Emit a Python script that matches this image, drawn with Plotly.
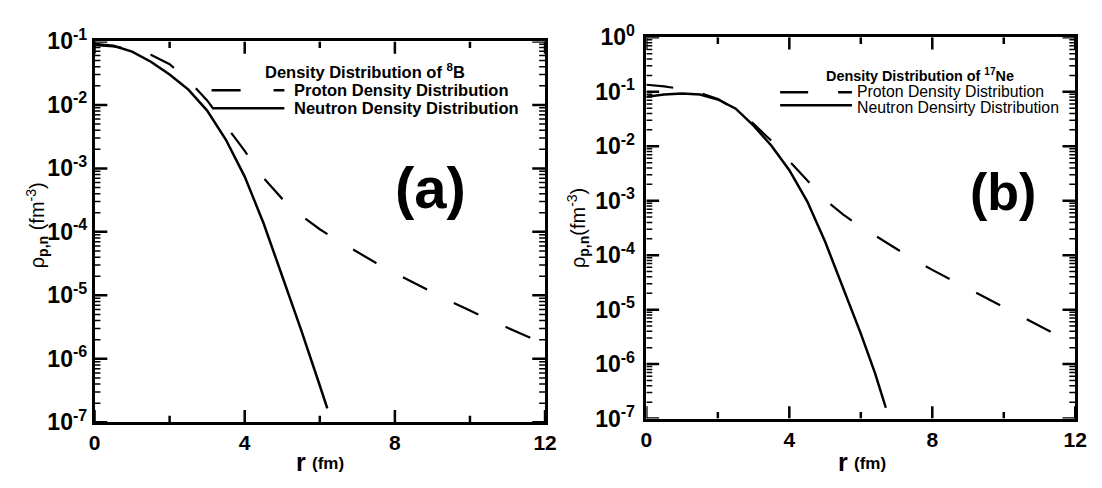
import math
import plotly.graph_objects as go

# ---- radial density data ----
# 8B
r_b8_n = [0.0, 0.5, 1.0, 1.5, 2.0, 2.5, 3.0, 3.5, 4.0, 4.5, 5.0, 5.5, 6.0, 6.2]
rho_b8_n = [0.0912, 0.0851, 0.0692, 0.0479, 0.0302, 0.0174, 0.00813, 0.00282,
            7.41e-4, 1.38e-4, 2.0e-5, 2.88e-6, 3.8e-7, 1.66e-7]
r_b8_p = [0.0, 0.5, 1.0, 1.5, 2.0, 2.5, 3.0, 3.5, 4.0, 4.5, 5.0, 5.5, 6.0, 6.5,
          7.0, 7.5, 8.0, 8.5, 9.0, 9.5, 10.0, 10.5, 11.0, 11.5, 12.0]
rho_b8_p = [0.0871, 0.0832, 0.0759, 0.0617, 0.0437, 0.0245, 0.01175, 0.00468,
            0.001884, 7.08e-4, 3.31e-4, 1.82e-4, 1.10e-4, 7.16e-5, 4.79e-5,
            3.24e-5, 2.24e-5, 1.58e-5, 1.12e-5, 7.94e-6, 5.75e-6, 4.17e-6,
            3.09e-6, 2.29e-6, 1.70e-6]
# 17Ne
r_ne_n = [0.0, 0.5, 1.0, 1.5, 2.0, 2.5, 3.0, 3.5, 4.0, 4.5, 5.0, 5.5, 6.0, 6.4, 6.7]
rho_ne_n = [0.0813, 0.0891, 0.0933, 0.0891, 0.0724, 0.0490, 0.0240, 0.01023,
            0.00363, 9.77e-4, 1.78e-4, 2.63e-5, 3.63e-6, 6.76e-7, 1.58e-7]
r_ne_p = [0.0, 0.5, 1.0, 1.5, 2.0, 2.5, 3.0, 3.5, 4.0, 4.5, 5.0, 5.5, 6.0, 6.5,
          7.0, 7.5, 8.0, 8.5, 9.0, 9.5, 10.0, 10.5, 11.0, 11.5, 12.0]
rho_ne_p = [0.1349, 0.1259, 0.1122, 0.0955, 0.0741, 0.0468, 0.0257, 0.01259,
            0.00537, 0.002344, 0.001047, 5.62e-4, 3.31e-4, 2.09e-4, 1.32e-4,
            8.13e-5, 5.37e-5, 3.63e-5, 2.45e-5, 1.62e-5, 1.10e-5, 7.41e-6,
            5.01e-6, 3.39e-6, 2.29e-6]

x_tickvals = [0, 4, 8, 12]
x_ticktext = ["<b>0</b>", "<b>4</b>", "<b>8</b>", "<b>12</b>"]
x_minorvals = [2, 6, 10]
ya_exps = [-1, -2, -3, -4, -5, -6, -7]
yb_exps = [0] + ya_exps

W, H = 1102, 488
FONT = "Liberation Sans, Arial, sans-serif"
X_RANGE = [0, 12]


def px(x):
    return x / W


def py(y):
    return 1 - y / H


def decade_ticks(exps):
    vals = [10.0 ** e for e in exps]
    txt = [f"<b>10<sup><span style='font-size:16px'>{e}</span></sup></b>" for e in exps]
    return vals, txt


def decade_minor(lo, hi):
    return [k * 10.0 ** e for e in range(lo, hi) for k in range(2, 10)]


dom_xa = [px(90), px(548)]
dom_ya = [py(432), py(27)]
dom_xb = [px(651), px(1087)]
dom_yb = [py(428), py(22.7)]
yr_a = [-7, -1]
yr_b = [-7, 0]

fig = go.Figure()

DASH = "27px,30px"
fig.add_trace(go.Scatter(x=r_b8_n, y=rho_b8_n, mode="lines",
                         line=dict(color="black", width=2.5), xaxis="x", yaxis="y"))
fig.add_trace(go.Scatter(x=r_b8_p, y=rho_b8_p, mode="lines",
                         line=dict(color="black", width=2.2, dash=DASH), xaxis="x", yaxis="y"))
fig.add_trace(go.Scatter(x=r_ne_n, y=rho_ne_n, mode="lines",
                         line=dict(color="black", width=2.5), xaxis="x2", yaxis="y2"))
fig.add_trace(go.Scatter(x=r_ne_p, y=rho_ne_p, mode="lines",
                         line=dict(color="black", width=2.2, dash=DASH), xaxis="x2", yaxis="y2"))


# inward frame ticks, drawn as line traces in each panel's own data space;
# tick lengths are given in pixels and converted with the panel's scale
def frame_tick_traces(dx, dy, yrange, xa, ya):
    x_per_px = (X_RANGE[1] - X_RANGE[0]) / ((dx[1] - dx[0]) * W)
    dec_per_px = (yrange[1] - yrange[0]) / ((dy[1] - dy[0]) * H)
    groups = {2.5: ([], []), 1.5: ([], [])}

    def add(width, xs, ys):
        gx, gy = groups[width]
        gx.extend(xs + [None])
        gy.extend(ys + [None])

    lo, hi = 10.0 ** yrange[0], 10.0 ** yrange[1]
    for v, ln in [(v, 13) for v in x_tickvals] + [(v, 7) for v in x_minorvals]:
        add(2.5, [v, v], [lo, 10.0 ** (yrange[0] + ln * dec_per_px)])
        add(2.5, [v, v], [hi, 10.0 ** (yrange[1] - ln * dec_per_px)])
    majors = [(10.0 ** e, 13, 2.5) for e in range(yrange[0], yrange[1] + 1)]
    minors = [(v, 6, 1.5) for v in decade_minor(yrange[0], yrange[1])]
    for v, ln, wd in majors + minors:
        add(wd, [X_RANGE[0], X_RANGE[0] + ln * x_per_px], [v, v])
        add(wd, [X_RANGE[1], X_RANGE[1] - ln * x_per_px], [v, v])
    for wd, (gx, gy) in groups.items():
        fig.add_trace(go.Scatter(x=gx, y=gy, mode="lines", xaxis=xa, yaxis=ya,
                                 line=dict(color="black", width=wd),
                                 hoverinfo="skip", connectgaps=False,
                                 cliponaxis=False))


frame_tick_traces(dom_xa, dom_ya, yr_a, "x", "y")
frame_tick_traces(dom_xb, dom_yb, yr_b, "x2", "y2")

xfont = dict(family=FONT, size=21, color="black", weight="bold")
yfont = dict(family=FONT, size=23, color="black", weight="bold")


def main_x(domain, anchor):
    return dict(domain=domain, anchor=anchor, range=X_RANGE, tickmode="array",
                tickvals=x_tickvals, ticktext=x_ticktext, ticks="",
                showline=True, linewidth=2.5, linecolor="black", mirror=True,
                showgrid=False, zeroline=False, tickfont=xfont)


def main_y(domain, anchor, rng, exps, standoff):
    tv, tt = decade_ticks(exps)
    return dict(domain=domain, anchor=anchor, type="log", range=rng,
                tickmode="array", tickvals=tv, ticktext=tt, ticks="",
                showline=True, linewidth=2.5, linecolor="black", mirror=True,
                showgrid=False, zeroline=False, tickfont=yfont,
                ticklabelstandoff=standoff)


fig.update_layout(
    width=W, height=H, margin=dict(l=0, r=0, t=0, b=0),
    paper_bgcolor="white", plot_bgcolor="white", showlegend=False,
    xaxis=main_x(dom_xa, "y"),
    yaxis=main_y(dom_ya, "x", yr_a, ya_exps, 0),
    xaxis2=main_x(dom_xb, "y2"),
    yaxis2=main_y(dom_yb, "x2", yr_b, yb_exps, 4),
)

ann = []
shapes = []


def text(x, y, s, size, xanchor="center", angle=0):
    ann.append(dict(x=px(x), y=py(y), xref="paper", yref="paper", text=s,
                    showarrow=False, xanchor=xanchor, yanchor="middle",
                    textangle=angle,
                    font=dict(family=FONT, size=size, color="black")))


def hline(x0, x1, y, dash="solid"):
    shapes.append(dict(type="line", xref="paper", yref="paper",
                       x0=px(x0), x1=px(x1), y0=py(y), y1=py(y),
                       line=dict(color="black", width=2.5, dash=dash)))


# legend block, panel (a)
text(365, 58, "<b>Density Distribution of <sup>8</sup>B</b>", 16.5)
hline(209, 283, 79, "29px,33px")
hline(210, 283, 98)
text(291, 79, "<b>Proton Density Distribution</b>", 16.5, xanchor="left")
text(291, 98, "<b>Neutron Density Distribution</b>", 16.5, xanchor="left")

# legend block, panel (b)
text(929, 63, "<b>Density Distribution of <sup>17</sup>Ne</b>", 14.4)
hline(787, 860, 81, "28px,30px")
hline(787, 860, 95)
text(863, 80, "Proton Density Distribution", 15.8, xanchor="left")
text(863, 97, "Neutron Densirty Distribution", 15.8, xanchor="left")

# panel tags
text(432, 182, "<b>(a)</b>", 58)
text(1014, 187, "<b>(b)</b>", 52)

# axis titles
for xc in (307, 858):
    text(xc, 474, "<b>r</b>", 25, xanchor="right")
    text(xc + 2, 476, "<b>(fm)</b>", 17, xanchor="left")
text(32, 222, "ρ<sub><b>p,n</b></sub> (fm<sup>-3</sup>)", 20, angle=-90)
text(582, 225, "ρ<sub><b>p,n</b></sub>(fm<sup>-3</sup>)", 20, angle=-90)

fig.update_layout(annotations=ann, shapes=shapes)

fig.write_html("out.html")
